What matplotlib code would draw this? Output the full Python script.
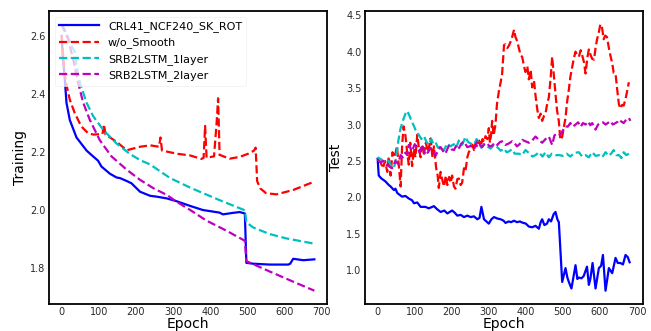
import numpy as np
import matplotlib
matplotlib.use('Agg')
import matplotlib.pyplot as plt

#################################################################
# training loss (left panel)
tr_ep_crl = [0, 3, 8, 13, 22, 40, 67, 80, 98, 107, 130, 148, 157, 175, 188, 211, 238, 256, 283, 310,
             346, 380, 425, 434, 460, 479, 493, 497, 515, 560, 610, 615, 623, 650, 680]
tr_crl = [2.60, 2.53, 2.46, 2.37, 2.31, 2.25, 2.205, 2.19, 2.17, 2.15, 2.125, 2.112, 2.11, 2.10, 2.092,
          2.063, 2.049, 2.046, 2.04, 2.03, 2.014, 2.0, 1.991, 1.985, 1.99, 1.993, 1.988, 1.818, 1.815,
          1.812, 1.812, 1.815, 1.832, 1.827, 1.83]

tr_ep_nosm = [0, 8, 15, 22, 35, 53, 71, 85, 110, 114, 118, 148, 175, 211, 238, 262, 266, 270, 310, 346,
              376, 382, 386, 390, 410, 417, 421, 425, 452, 479, 502, 518, 522, 526, 534, 550, 578, 623, 680]
tr_nosm = [2.60, 2.47, 2.42, 2.38, 2.335, 2.288, 2.265, 2.26, 2.262, 2.295, 2.26, 2.235, 2.206, 2.218,
           2.223, 2.218, 2.25, 2.205, 2.194, 2.188, 2.176, 2.18, 2.29, 2.18, 2.185, 2.30, 2.385, 2.19,
           2.177, 2.183, 2.194, 2.205, 2.215, 2.10, 2.075, 2.058, 2.054, 2.069, 2.098]

tr_ep_1l = [0, 13, 25, 35, 40, 49, 67, 85, 112, 148, 184, 211, 238, 292, 346, 425, 493, 497, 515, 560, 605, 680]
tr_1l = [2.64, 2.61, 2.57, 2.545, 2.50, 2.44, 2.37, 2.323, 2.276, 2.229, 2.193, 2.172, 2.157, 2.11,
         2.077, 2.034, 1.999, 1.958, 1.94, 1.917, 1.902, 1.884]

tr_ep_2l = [0, 17, 31, 44, 58, 76, 103, 134, 175, 211, 247, 283, 310, 346, 389, 443, 493, 497, 560, 623, 680]
tr_2l = [2.64, 2.59, 2.52, 2.44, 2.37, 2.31, 2.24, 2.185, 2.139, 2.104, 2.075, 2.052, 2.028, 2.0,
         1.964, 1.929, 1.894, 1.824, 1.788, 1.753, 1.722]

# test loss (right panel)
te_ep_crl = [0, 3, 10, 21, 30, 35, 44, 48, 53, 66, 75, 84, 93, 98, 107, 116, 129, 138, 152, 160, 170,
             180, 188, 201, 208, 215, 224, 233, 242, 251, 260, 269, 275, 280, 287, 300, 307, 314, 323,
             332, 340, 345, 354, 360, 368, 376, 384, 390, 400, 408, 417, 426, 435, 440, 444, 450, 457,
             462, 468, 475, 480, 485, 489, 498, 507, 512, 516, 523, 534, 539, 543, 550, 556, 565, 570,
             574, 580, 588, 597, 603, 608, 615, 624, 633, 642, 648, 655, 662, 669, 675, 680]
te_crl = [2.53, 2.30, 2.26, 2.22, 2.17, 2.15, 2.10, 2.12, 2.06, 2.01, 2.02, 1.985, 1.96, 1.92, 1.93,
          1.87, 1.87, 1.85, 1.88, 1.84, 1.80, 1.82, 1.78, 1.82, 1.79, 1.75, 1.76, 1.73, 1.75, 1.73,
          1.74, 1.70, 1.72, 1.87, 1.70, 1.64, 1.70, 1.73, 1.71, 1.70, 1.68, 1.65, 1.67, 1.66, 1.68,
          1.66, 1.67, 1.655, 1.64, 1.60, 1.59, 1.61, 1.57, 1.66, 1.70, 1.62, 1.64, 1.70, 1.67, 1.77,
          1.80, 1.70, 1.66, 0.84, 1.03, 0.90, 0.84, 0.75, 1.07, 0.88, 0.90, 0.89, 0.92, 1.05, 0.80,
          0.88, 1.10, 0.75, 1.03, 1.06, 1.21, 0.72, 1.03, 0.96, 1.17, 1.10, 1.10, 1.08, 1.21, 1.18, 1.11]

te_ep_nosm = [0, 8, 14, 20, 26, 30, 35, 40, 46, 52, 57, 62, 66, 70, 75, 80, 84, 88, 93, 98, 102, 107,
              112, 116, 121, 125, 130, 136, 143, 148, 152, 158, 162, 165, 170, 174, 179, 184, 188, 193,
              197, 201, 206, 210, 215, 219, 224, 228, 233, 237, 242, 246, 251, 256, 260, 264, 269, 274,
              278, 283, 287, 291, 296, 300, 303, 306, 309, 313, 318, 322, 327, 332, 336, 341, 345, 350,
              354, 360, 364, 368, 372, 377, 381, 386, 390, 395, 399, 404, 408, 413, 417, 422, 426, 431,
              435, 440, 444, 449, 453, 458, 462, 467, 471, 475, 480, 484, 489, 493, 498, 502, 507, 511,
              516, 520, 525, 530, 534, 539, 543, 548, 552, 557, 561, 566, 570, 575, 579, 584, 588, 592,
              597, 601, 605, 610, 614, 619, 624, 628, 633, 637, 642, 646, 651, 655, 660, 664, 669, 674, 678]
te_nosm = [2.52, 2.48, 2.40, 2.50, 2.35, 2.56, 2.30, 2.62, 2.55, 2.70, 2.45, 2.15, 2.70, 2.975, 2.85,
           2.60, 2.45, 2.75, 2.43, 2.67, 2.55, 2.86, 2.65, 2.55, 2.70, 2.60, 2.75, 2.62, 2.81, 2.55,
           2.70, 2.40, 2.30, 2.13, 2.35, 2.25, 2.15, 2.30, 2.17, 2.28, 2.20, 2.30, 2.15, 2.12, 2.25,
           2.26, 2.17, 2.20, 2.40, 2.36, 2.55, 2.62, 2.67, 2.72, 2.65, 2.75, 2.69, 2.78, 2.70, 2.80,
           2.76, 2.84, 2.80, 2.95, 2.75, 2.85, 3.05, 2.85, 3.00, 3.28, 3.45, 3.58, 3.70, 4.09, 4.10,
           4.05, 4.08, 4.15, 4.22, 4.30, 4.20, 4.14, 4.05, 3.95, 3.93, 3.80, 3.72, 3.80, 3.62, 3.75,
           3.51, 3.60, 3.40, 3.20, 3.09, 3.15, 3.05, 3.12, 3.15, 3.30, 3.37, 3.65, 3.93, 3.70, 3.42,
           3.20, 3.045, 2.79, 2.83, 2.95, 3.09, 3.30, 3.48, 3.65, 3.79, 3.92, 4.00, 3.95, 3.93, 4.02,
           3.95, 3.85, 3.70, 3.92, 4.03, 3.95, 3.90, 3.89, 4.05, 4.165, 4.27, 4.375, 4.35, 4.17, 4.22,
           4.20, 4.05, 3.95, 3.84, 3.71, 3.70, 3.50, 3.28, 3.22, 3.27, 3.26, 3.35, 3.48, 3.58]

te_ep_1l = [0, 10, 20, 30, 38, 44, 50, 56, 62, 70, 76, 80, 86, 92, 98, 104, 111, 118, 125, 132, 138,
            145, 150, 156, 163, 170, 178, 188, 196, 206, 212, 219, 228, 237, 244, 251, 260, 267, 273,
            280, 287, 295, 305, 314, 323, 332, 341, 348, 354, 362, 370, 381, 390, 399, 410, 418, 426,
            435, 445, 453, 462, 470, 480, 490, 500, 510, 520, 530, 543, 552, 561, 570, 579, 588, 597,
            606, 615, 623, 630, 637, 644, 651, 658, 664, 671, 678]
te_1l = [2.55, 2.52, 2.48, 2.50, 2.42, 2.40, 2.55, 2.78, 2.95, 3.08, 3.16, 3.185, 3.12, 3.04, 2.98,
         2.90, 2.86, 2.80, 2.84, 2.76, 2.72, 2.80, 2.74, 2.76, 2.68, 2.70, 2.64, 2.74, 2.70, 2.73,
         2.68, 2.78, 2.72, 2.83, 2.76, 2.74, 2.72, 2.80, 2.75, 2.68, 2.73, 2.70, 2.67, 2.72, 2.69,
         2.64, 2.67, 2.62, 2.63, 2.66, 2.60, 2.60, 2.58, 2.65, 2.60, 2.56, 2.58, 2.62, 2.56, 2.62,
         2.55, 2.60, 2.58, 2.58, 2.57, 2.60, 2.56, 2.61, 2.62, 2.56, 2.58, 2.55, 2.62, 2.57, 2.58,
         2.55, 2.62, 2.57, 2.60, 2.65, 2.58, 2.58, 2.54, 2.62, 2.58, 2.60]

te_ep_2l = [0, 8, 15, 22, 30, 39, 48, 55, 62, 68, 75, 80, 84, 93, 100, 107, 113, 120, 129, 136, 143,
            150, 156, 163, 170, 176, 183, 192, 199, 206, 213, 220, 226, 233, 242, 248, 255, 262, 269,
            276, 282, 289, 296, 302, 309, 316, 323, 330, 336, 345, 354, 363, 370, 376, 383, 390, 399,
            408, 417, 426, 435, 444, 453, 462, 471, 477, 484, 493, 500, 507, 513, 520, 527, 534, 541,
            548, 554, 561, 568, 574, 579, 584, 588, 595, 601, 608, 615, 621, 628, 635, 642, 648, 651,
            658, 664, 671, 678, 682]
te_2l = [2.52, 2.48, 2.50, 2.45, 2.43, 2.40, 2.50, 2.46, 2.58, 2.55, 2.615, 2.58, 2.72, 2.64, 2.73,
         2.69, 2.62, 2.72, 2.58, 2.62, 2.68, 2.62, 2.57, 2.64, 2.69, 2.64, 2.60, 2.71, 2.66, 2.65,
         2.72, 2.68, 2.74, 2.765, 2.69, 2.70, 2.72, 2.68, 2.77, 2.72, 2.69, 2.74, 2.74, 2.70, 2.71,
         2.75, 2.72, 2.76, 2.77, 2.72, 2.74, 2.77, 2.74, 2.70, 2.73, 2.79, 2.77, 2.75, 2.78, 2.835,
         2.79, 2.75, 2.80, 2.835, 2.72, 2.85, 2.88, 2.86, 2.92, 2.975, 2.97, 3.02, 2.97, 3.00, 3.03,
         2.97, 3.02, 3.00, 3.04, 2.99, 3.02, 2.97, 2.93, 3.00, 3.02, 3.03, 3.00, 3.02, 3.045, 3.00,
         3.02, 3.04, 3.065, 3.04, 3.02, 3.07, 3.09, 3.05]

labels = ['CRL41_NCF240_SK_ROT', 'w/o_Smooth', 'SRB2LSTM_1layer', 'SRB2LSTM_2layer']
xticks = [0, 100, 200, 300, 400, 500, 600, 700]

#################################################################
plt.rcParams['font.family'] = 'DejaVu Sans'
fig = plt.figure(figsize=(6.51, 3.31), dpi=100)
ax1 = fig.add_axes([49/651., 1 - 304/331., 278/651., 293/331.])
ax2 = fig.add_axes([365/651., 1 - 304/331., 278/651., 293/331.])

ax1.plot(tr_ep_crl, tr_crl, 'b-', lw=1.6, label=labels[0])
ax1.plot(tr_ep_nosm, tr_nosm, 'r--', lw=1.6, label=labels[1])
ax1.plot(tr_ep_1l, tr_1l, 'c--', lw=1.6, label=labels[2])
ax1.plot(tr_ep_2l, tr_2l, 'm--', lw=1.6, label=labels[3])

ax2.plot(te_ep_crl, te_crl, 'b-', lw=1.6)
ax2.plot(te_ep_nosm, te_nosm, 'r--', lw=1.6)
ax2.plot(te_ep_1l, te_1l, 'c--', lw=1.6)
ax2.plot(te_ep_2l, te_2l, 'm--', lw=1.6)

ax1.set_yticks([1.8, 2.0, 2.2, 2.4, 2.6])
ax2.set_yticks([1.0, 1.5, 2.0, 2.5, 3.0, 3.5, 4.0, 4.5])
for ax, name in [(ax1, 'Training'), (ax2, 'Test')]:
    ax.set_xticks(xticks)
    ax.tick_params(labelsize=7, labelcolor='#2a2a2a', length=0, pad=2.5)
    ax.set_xlabel('Epoch', fontsize=10, labelpad=0)
    ax.set_ylabel(name, fontsize=10, labelpad=2)
    for s in ax.spines.values():
        s.set_linewidth(1.3)
        s.set_color('black')

leg = ax1.legend(loc='upper left', fontsize=8, handlelength=3.6, handletextpad=0.8,
                 frameon=True, fancybox=True, framealpha=0.75, borderaxespad=0.5)
leg.get_frame().set_edgecolor('#eeeeee')
leg.get_frame().set_linewidth(0.6)

plt.savefig('out.png', dpi=100)
